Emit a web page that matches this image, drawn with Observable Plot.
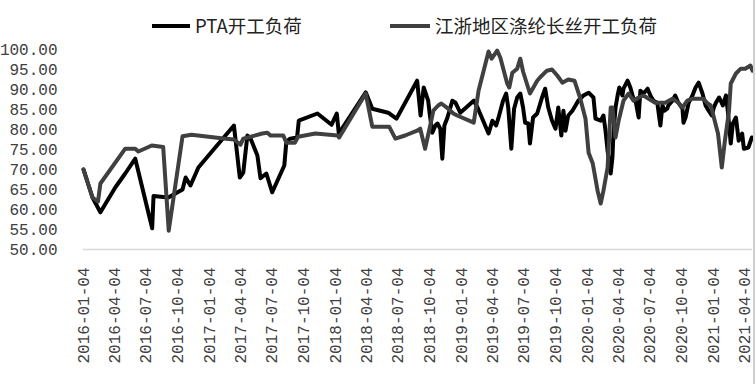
<!DOCTYPE html>
<html>
<head>
<meta charset="utf-8">
<script src="https://cdn.jsdelivr.net/npm/d3@7"></script>
<script src="https://cdn.jsdelivr.net/npm/@observablehq/plot@0.6"></script>
<style>
  html, body { margin: 0; padding: 0; background: #fff; }
  #wrap { position: relative; width: 756px; height: 384px; overflow: hidden; }
  #legend { position: relative; width: 756px; height: 40px; font-family: "Noto Sans CJK SC", sans-serif; font-size: 18.5px; color: #222; }
  .sw { position: absolute; top: 24px; height: 3.5px; }
  .lt { position: absolute; top: 12px; line-height: 26px; white-space: nowrap; }
  #border { position: absolute; left: 753px; top: 0; width: 2px; height: 384px; background: #cfcfcf; }
</style>
</head>
<body>
<div id="wrap">
  <div id="legend"></div>
  <div id="chart"></div>
  <div id="border"></div>
</div>
<script>
const seriesNames = ["PTA开工负荷", "江浙地区涤纶长丝开工负荷"];
const seriesColors = ["#000000", "#404040"];

const yTicks = [50, 55, 60, 65, 70, 75, 80, 85, 90, 95, 100];
const xTickLabels = ["2016-01-04","2016-04-04","2016-07-04","2016-10-04","2017-01-04","2017-04-04","2017-07-04","2017-10-04","2018-01-04","2018-04-04","2018-07-04","2018-10-04","2019-01-04","2019-04-04","2019-07-04","2019-10-04","2020-01-04","2020-04-04","2020-07-04","2020-10-04","2021-01-04","2021-04-04"];
const xDomain = ["2016-01-04", "2021-04-26"];

const ptaDates = ["2016-01-04","2016-01-30","2016-02-22","2016-04-05","2016-05-04","2016-06-02","2016-07-21","2016-07-25","2016-09-06","2016-10-17","2016-10-26","2016-11-09","2016-12-02","2017-03-15","2017-04-01","2017-04-11","2017-04-23","2017-05-01","2017-05-22","2017-05-31","2017-06-17","2017-07-04","2017-08-08","2017-08-14","2017-08-25","2017-09-14","2017-09-19","2017-11-12","2017-12-23","2018-01-07","2018-01-13","2018-04-01","2018-04-20","2018-06-05","2018-06-29","2018-08-28","2018-09-07","2018-09-16","2018-09-29","2018-10-04","2018-10-11","2018-10-20","2018-10-26","2018-11-03","2018-11-09","2018-11-15","2018-11-24","2018-12-08","2018-12-17","2018-12-31","2019-02-08","2019-02-19","2019-03-23","2019-04-03","2019-04-14","2019-04-20","2019-05-04","2019-05-13","2019-05-19","2019-05-28","2019-06-05","2019-06-14","2019-06-23","2019-07-01","2019-07-07","2019-07-16","2019-07-21","2019-07-30","2019-08-11","2019-08-25","2019-09-03","2019-09-12","2019-09-23","2019-10-03","2019-10-11","2019-10-20","2019-10-26","2019-11-01","2019-11-09","2019-11-21","2019-11-30","2019-12-08","2019-12-23","2020-01-07","2020-01-21","2020-01-27","2020-02-11","2020-02-19","2020-02-25","2020-03-02","2020-03-11","2020-03-16","2020-03-19","2020-03-25","2020-03-31","2020-04-05","2020-04-14","2020-04-17","2020-04-29","2020-05-07","2020-05-16","2020-05-22","2020-05-31","2020-06-05","2020-06-14","2020-06-26","2020-07-04","2020-07-13","2020-07-24","2020-08-02","2020-08-08","2020-08-14","2020-08-22","2020-08-25","2020-09-06","2020-09-14","2020-09-23","2020-10-05","2020-10-08","2020-10-14","2020-10-23","2020-11-03","2020-11-12","2020-11-21","2020-12-02","2020-12-11","2020-12-20","2020-12-29","2021-01-04","2021-01-10","2021-01-19","2021-01-24","2021-01-30","2021-02-08","2021-02-14","2021-02-22","2021-02-28","2021-03-09","2021-03-17","2021-03-27","2021-04-01","2021-04-14","2021-04-24"];
const ptaValues = [70,63,59.3,65.5,69,72.7,55.3,63.4,63,65,68,66,70.5,81,68,69.2,78.5,78,73.5,67.8,69,64.3,71,77,77.7,78,82.2,84,81.2,84,79,89.3,85.2,84.2,82.7,92.2,83.5,90.5,87.2,83.5,79.2,81,81.5,80.2,72.7,81,83,87.2,86.7,84.2,87.2,85.5,79,82.2,81,82.7,87.2,89,85.5,75.2,85.2,88,89,85.5,81.7,81.5,76.5,83,84,88,90.2,85.5,82.2,80.2,85.5,78.5,84.7,79.7,83.5,84.7,86,87.2,88.5,89.2,88,82.7,82.2,83.5,79.7,74.7,69,73,79,85.5,88.5,90.5,88.5,90.2,92.2,90.5,87.7,87.2,83,89.7,89,90.2,88.5,87.2,86.7,81,86,84.7,85.2,86,87.2,88.5,86.7,85.2,81.7,83,86.7,88.5,90.5,91.7,89,86,84.7,83.5,85.5,86.7,88,87.2,86,88.5,84.2,76.5,81.5,83,77.2,79,75.2,75.5,78];

const filDates = ["2016-01-04","2016-01-30","2016-02-15","2016-02-22","2016-05-04","2016-06-02","2016-06-11","2016-07-20","2016-08-22","2016-09-07","2016-10-17","2016-11-12","2017-02-19","2017-03-15","2017-04-03","2017-04-11","2017-06-05","2017-06-20","2017-06-29","2017-08-05","2017-08-14","2017-09-08","2017-09-17","2017-11-06","2018-01-10","2018-01-14","2018-04-01","2018-04-20","2018-06-08","2018-06-26","2018-07-24","2018-08-28","2018-09-06","2018-09-20","2018-10-05","2018-10-14","2018-10-28","2018-11-06","2018-11-26","2018-12-11","2018-12-22","2019-02-08","2019-02-22","2019-03-23","2019-04-01","2019-04-17","2019-04-26","2019-05-16","2019-05-22","2019-05-31","2019-06-14","2019-06-23","2019-07-01","2019-07-21","2019-08-11","2019-08-19","2019-09-08","2019-09-23","2019-10-08","2019-10-23","2019-11-09","2019-11-27","2019-12-14","2019-12-29","2020-01-07","2020-01-19","2020-02-02","2020-02-11","2020-02-19","2020-03-02","2020-03-11","2020-03-16","2020-03-25","2020-04-03","2020-04-17","2020-05-02","2020-05-16","2020-05-31","2020-06-14","2020-06-29","2020-07-18","2020-08-16","2020-09-06","2020-09-23","2020-10-05","2020-10-19","2020-11-03","2020-12-05","2020-12-17","2020-12-26","2021-01-04","2021-01-16","2021-01-27","2021-02-05","2021-02-17","2021-02-22","2021-03-09","2021-03-23","2021-04-05","2021-04-20","2021-04-26"];
const filValues = [70,63,62,66.5,75.2,75.2,74.5,76,75.6,54.7,78.3,78.7,77.7,77.5,76.2,77.7,79,79.2,78.5,78.5,76.7,76.7,78.2,79,78.5,78,89,80.7,80.7,77.7,78.5,79.7,80.2,75.2,81,84.7,86,86.5,85.2,84,83.5,81.7,89.7,99.5,97.7,99.7,98,91.5,90.5,94.2,95.2,97.7,94.5,89,92.2,93,94.7,95,93.5,91.7,92.5,92.2,87.7,82.7,74.2,71.5,64.7,61.5,64.7,70.5,85.5,85.5,78,82.2,87.2,89,87.2,88,88.5,87.7,86.7,86.7,87.7,86.7,85.5,87.2,87.7,87.7,86.5,86,83,79,70.5,77.2,84.7,91.5,94,95.2,95.2,96,94.7];

const parse = d3.utcParse("%Y-%m-%d");
const pta = ptaDates.map((d, i) => ({date: parse(d), value: ptaValues[i]}));
const fil = filDates.map((d, i) => ({date: parse(d), value: filValues[i]}));

// legend
const legend = document.getElementById("legend");
const legendPos = [{sw: 152, sww: 38, tx: 195}, {sw: 390, sww: 40, tx: 435}];
seriesNames.forEach((name, i) => {
  const s = document.createElement("div");
  s.className = "sw";
  s.style.left = legendPos[i].sw + "px";
  s.style.width = legendPos[i].sww + "px";
  s.style.background = seriesColors[i];
  legend.appendChild(s);
  const t = document.createElement("div");
  t.className = "lt";
  t.style.left = legendPos[i].tx + "px";
  t.textContent = name;
  legend.appendChild(t);
});

const chart = Plot.plot({
  width: 756,
  height: 344,
  marginLeft: 83,
  marginRight: 4,
  marginTop: 9,
  marginBottom: 135,
  x: {type: "utc", domain: xDomain.map(parse), label: null},
  y: {domain: [50, 100], label: null},
  style: {fontFamily: "'Liberation Mono', monospace", fontSize: "16px", color: "#404040", background: "transparent"},
  marks: [
    Plot.ruleY([50], {stroke: "#d9d9d9", strokeWidth: 1.5}),
    Plot.axisY({ticks: yTicks, tickSize: 0, tickPadding: 26, tickFormat: d3.format(".2f"), fill: "#404040", label: null}),
    Plot.axisX({ticks: xTickLabels.map(parse), tickSize: 0, tickPadding: 18, tickRotate: -90, tickFormat: d3.utcFormat("%Y-%m-%d"), fill: "#404040", label: null}),
    Plot.line(pta, {x: "date", y: "value", stroke: seriesColors[0], strokeWidth: 4, strokeLinejoin: "round"}),
    Plot.line(fil, {x: "date", y: "value", stroke: seriesColors[1], strokeWidth: 4, strokeLinejoin: "round"})
  ]
});
document.getElementById("chart").appendChild(chart);
</script>
</body>
</html>
